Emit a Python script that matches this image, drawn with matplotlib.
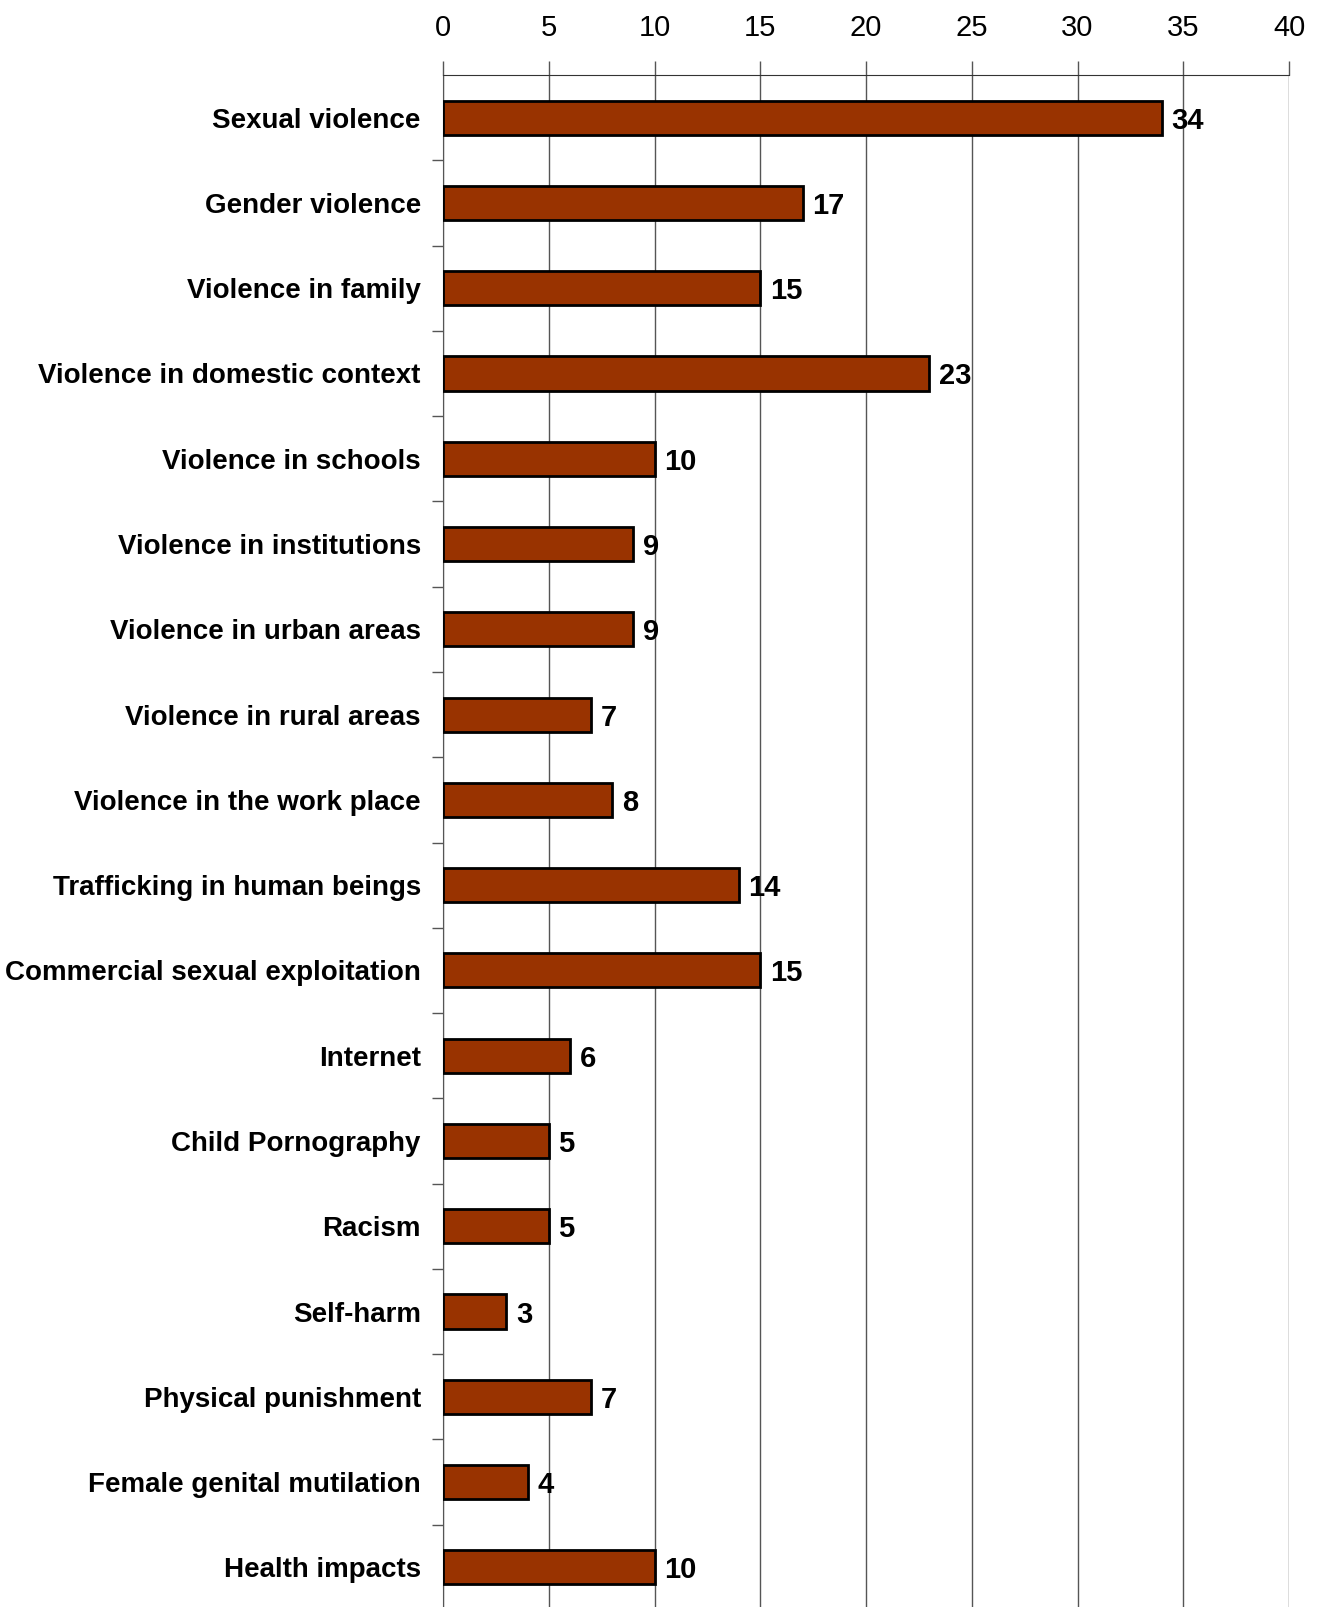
import matplotlib.pyplot as plt
import numpy as np

# Data (top to bottom)
categories = [
    "Sexual violence", "Gender violence", "Violence in family",
    "Violence in domestic context", "Violence in schools",
    "Violence in institutions", "Violence in urban areas",
    "Violence in rural areas", "Violence in the work place",
    "Trafficking in human beings", "Commercial sexual exploitation",
    "Internet", "Child Pornography", "Racism", "Self-harm",
    "Physical punishment", "Female genital mutilation", "Health impacts",
]
counts = [34, 17, 15, 23, 10, 9, 9, 7, 8, 14, 15, 6, 5, 5, 3, 7, 4, 10]
x_ticks = [0, 5, 10, 15, 20, 25, 30, 35, 40]

plt.rcParams['font.family'] = ['Liberation Sans', 'DejaVu Sans']

fig = plt.figure(figsize=(13.23, 16.07), dpi=100)
# axes from y=75px (top) to ~3px below the figure bottom
ax = fig.add_axes([443 / 1323, -3 / 1607, (1289 - 443) / 1323, (1607 - 75 + 3) / 1607])

y = np.arange(len(categories))
ax.barh(y, counts, height=0.4, color='#993300', edgecolor='black', linewidth=2, zorder=3)

for yi, v in zip(y, counts):
    ax.text(v + 0.45, yi, str(v), va='center_baseline', ha='left', fontsize=21,
            fontweight='bold', zorder=4)

ax.set_ylim(len(categories) - 0.5, -0.5)
ax.set_xlim(0, 40)

# x axis on top
ax.xaxis.tick_top()
ax.set_xticks(x_ticks)
ax.set_xticklabels([str(t) for t in x_ticks], fontsize=21)
ax.tick_params(axis='x', length=10, width=1, color='#555555', pad=14)
ax.grid(axis='x', color='#555555', linewidth=1, zorder=0)

# category labels, tick marks between categories
ax.set_yticks(y)
ax.set_yticklabels(categories, fontsize=20, fontweight='bold', va='center_baseline')
ax.tick_params(axis='y', which='major', length=0, pad=16)
ax.set_yticks(np.arange(len(categories)) + 0.5, minor=True)
ax.tick_params(axis='y', which='minor', length=8, width=1, color='#555555')

for side in ['right', 'bottom']:
    ax.spines[side].set_visible(False)
ax.spines['top'].set_color('#333333')
ax.spines['left'].set_color('#555555')

fig.savefig('out.png', dpi=100)
